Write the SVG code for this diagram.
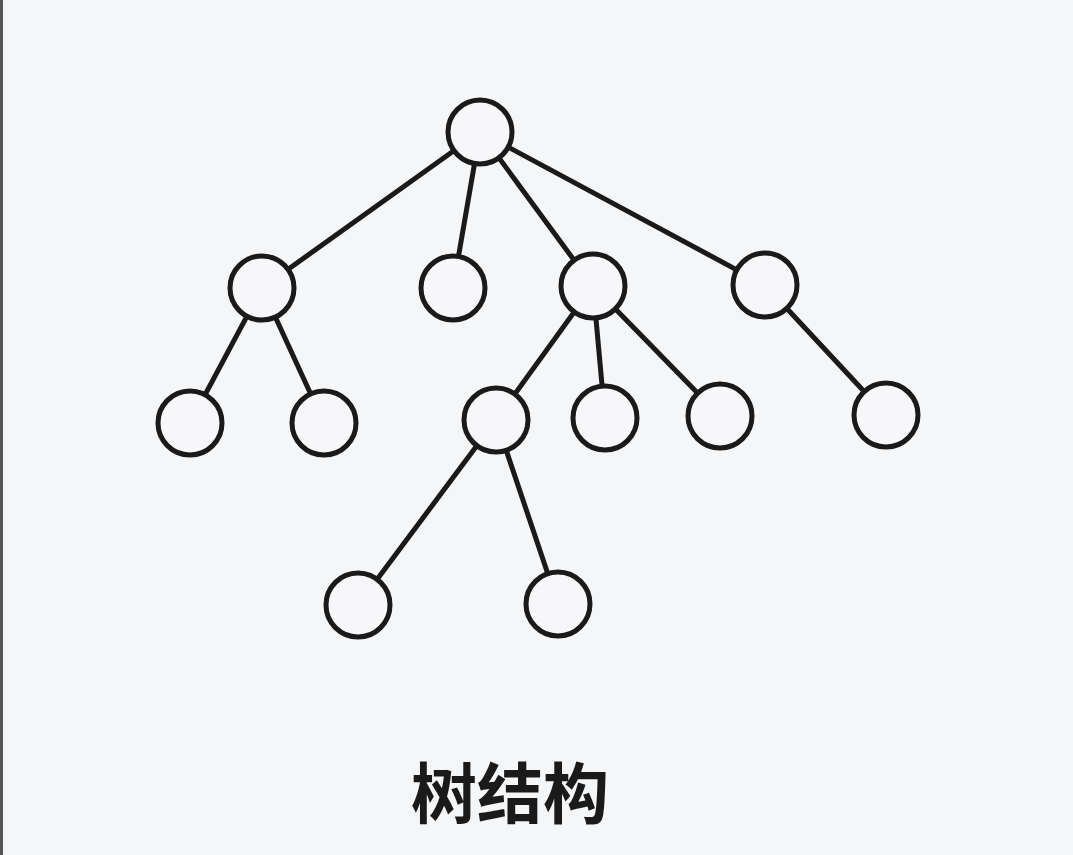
<svg xmlns="http://www.w3.org/2000/svg" width="1073" height="855" viewBox="0 0 1073 855">
<style>
.e{stroke:#1a1a1a;stroke-width:5;stroke-linecap:round;fill:none}
.n{fill:#f7f7f9;stroke:#1a1a1a;stroke-width:5}
.t{font-family:"Noto Sans CJK SC","Noto Sans CJK JP",sans-serif;font-size:66px;font-weight:bold;fill:#1a1a1a}
</style>
<rect width="1073" height="855" fill="#f5f6f8"/>
<rect x="0" y="0" width="3" height="855" fill="#555"/>
<g id="connectors">
<line class="e" x1="480" y1="132" x2="262" y2="288"/>
<line class="e" x1="480" y1="132" x2="453" y2="288"/>
<line class="e" x1="480" y1="132" x2="593" y2="286"/>
<line class="e" x1="480" y1="132" x2="765" y2="285"/>
<line class="e" x1="262" y1="288" x2="190" y2="423"/>
<line class="e" x1="262" y1="288" x2="324" y2="423"/>
<line class="e" x1="593" y1="286" x2="496" y2="420"/>
<line class="e" x1="593" y1="286" x2="605" y2="418"/>
<line class="e" x1="593" y1="286" x2="720" y2="416"/>
<line class="e" x1="765" y1="285" x2="886" y2="415"/>
<line class="e" x1="496" y1="420" x2="358" y2="605"/>
<line class="e" x1="496" y1="420" x2="558" y2="604"/>
</g>
<g id="root"><circle class="n" cx="480" cy="132" r="32"/></g>
<g id="a"><circle class="n" cx="262" cy="288" r="32"/></g>
<g id="b"><circle class="n" cx="453" cy="288" r="32"/></g>
<g id="c"><circle class="n" cx="593" cy="286" r="32"/></g>
<g id="d"><circle class="n" cx="765" cy="285" r="32"/></g>
<g id="a1"><circle class="n" cx="190" cy="423" r="32"/></g>
<g id="a2"><circle class="n" cx="324" cy="423" r="32"/></g>
<g id="c1"><circle class="n" cx="496" cy="420" r="32"/></g>
<g id="c2"><circle class="n" cx="605" cy="418" r="32"/></g>
<g id="c3"><circle class="n" cx="720" cy="416" r="32"/></g>
<g id="d1"><circle class="n" cx="886" cy="415" r="32"/></g>
<g id="c1a"><circle class="n" cx="358" cy="605" r="32"/></g>
<g id="c1b"><circle class="n" cx="558" cy="604" r="32"/></g>
<text class="t" x="510" y="818" text-anchor="middle">树结构</text>
</svg>
